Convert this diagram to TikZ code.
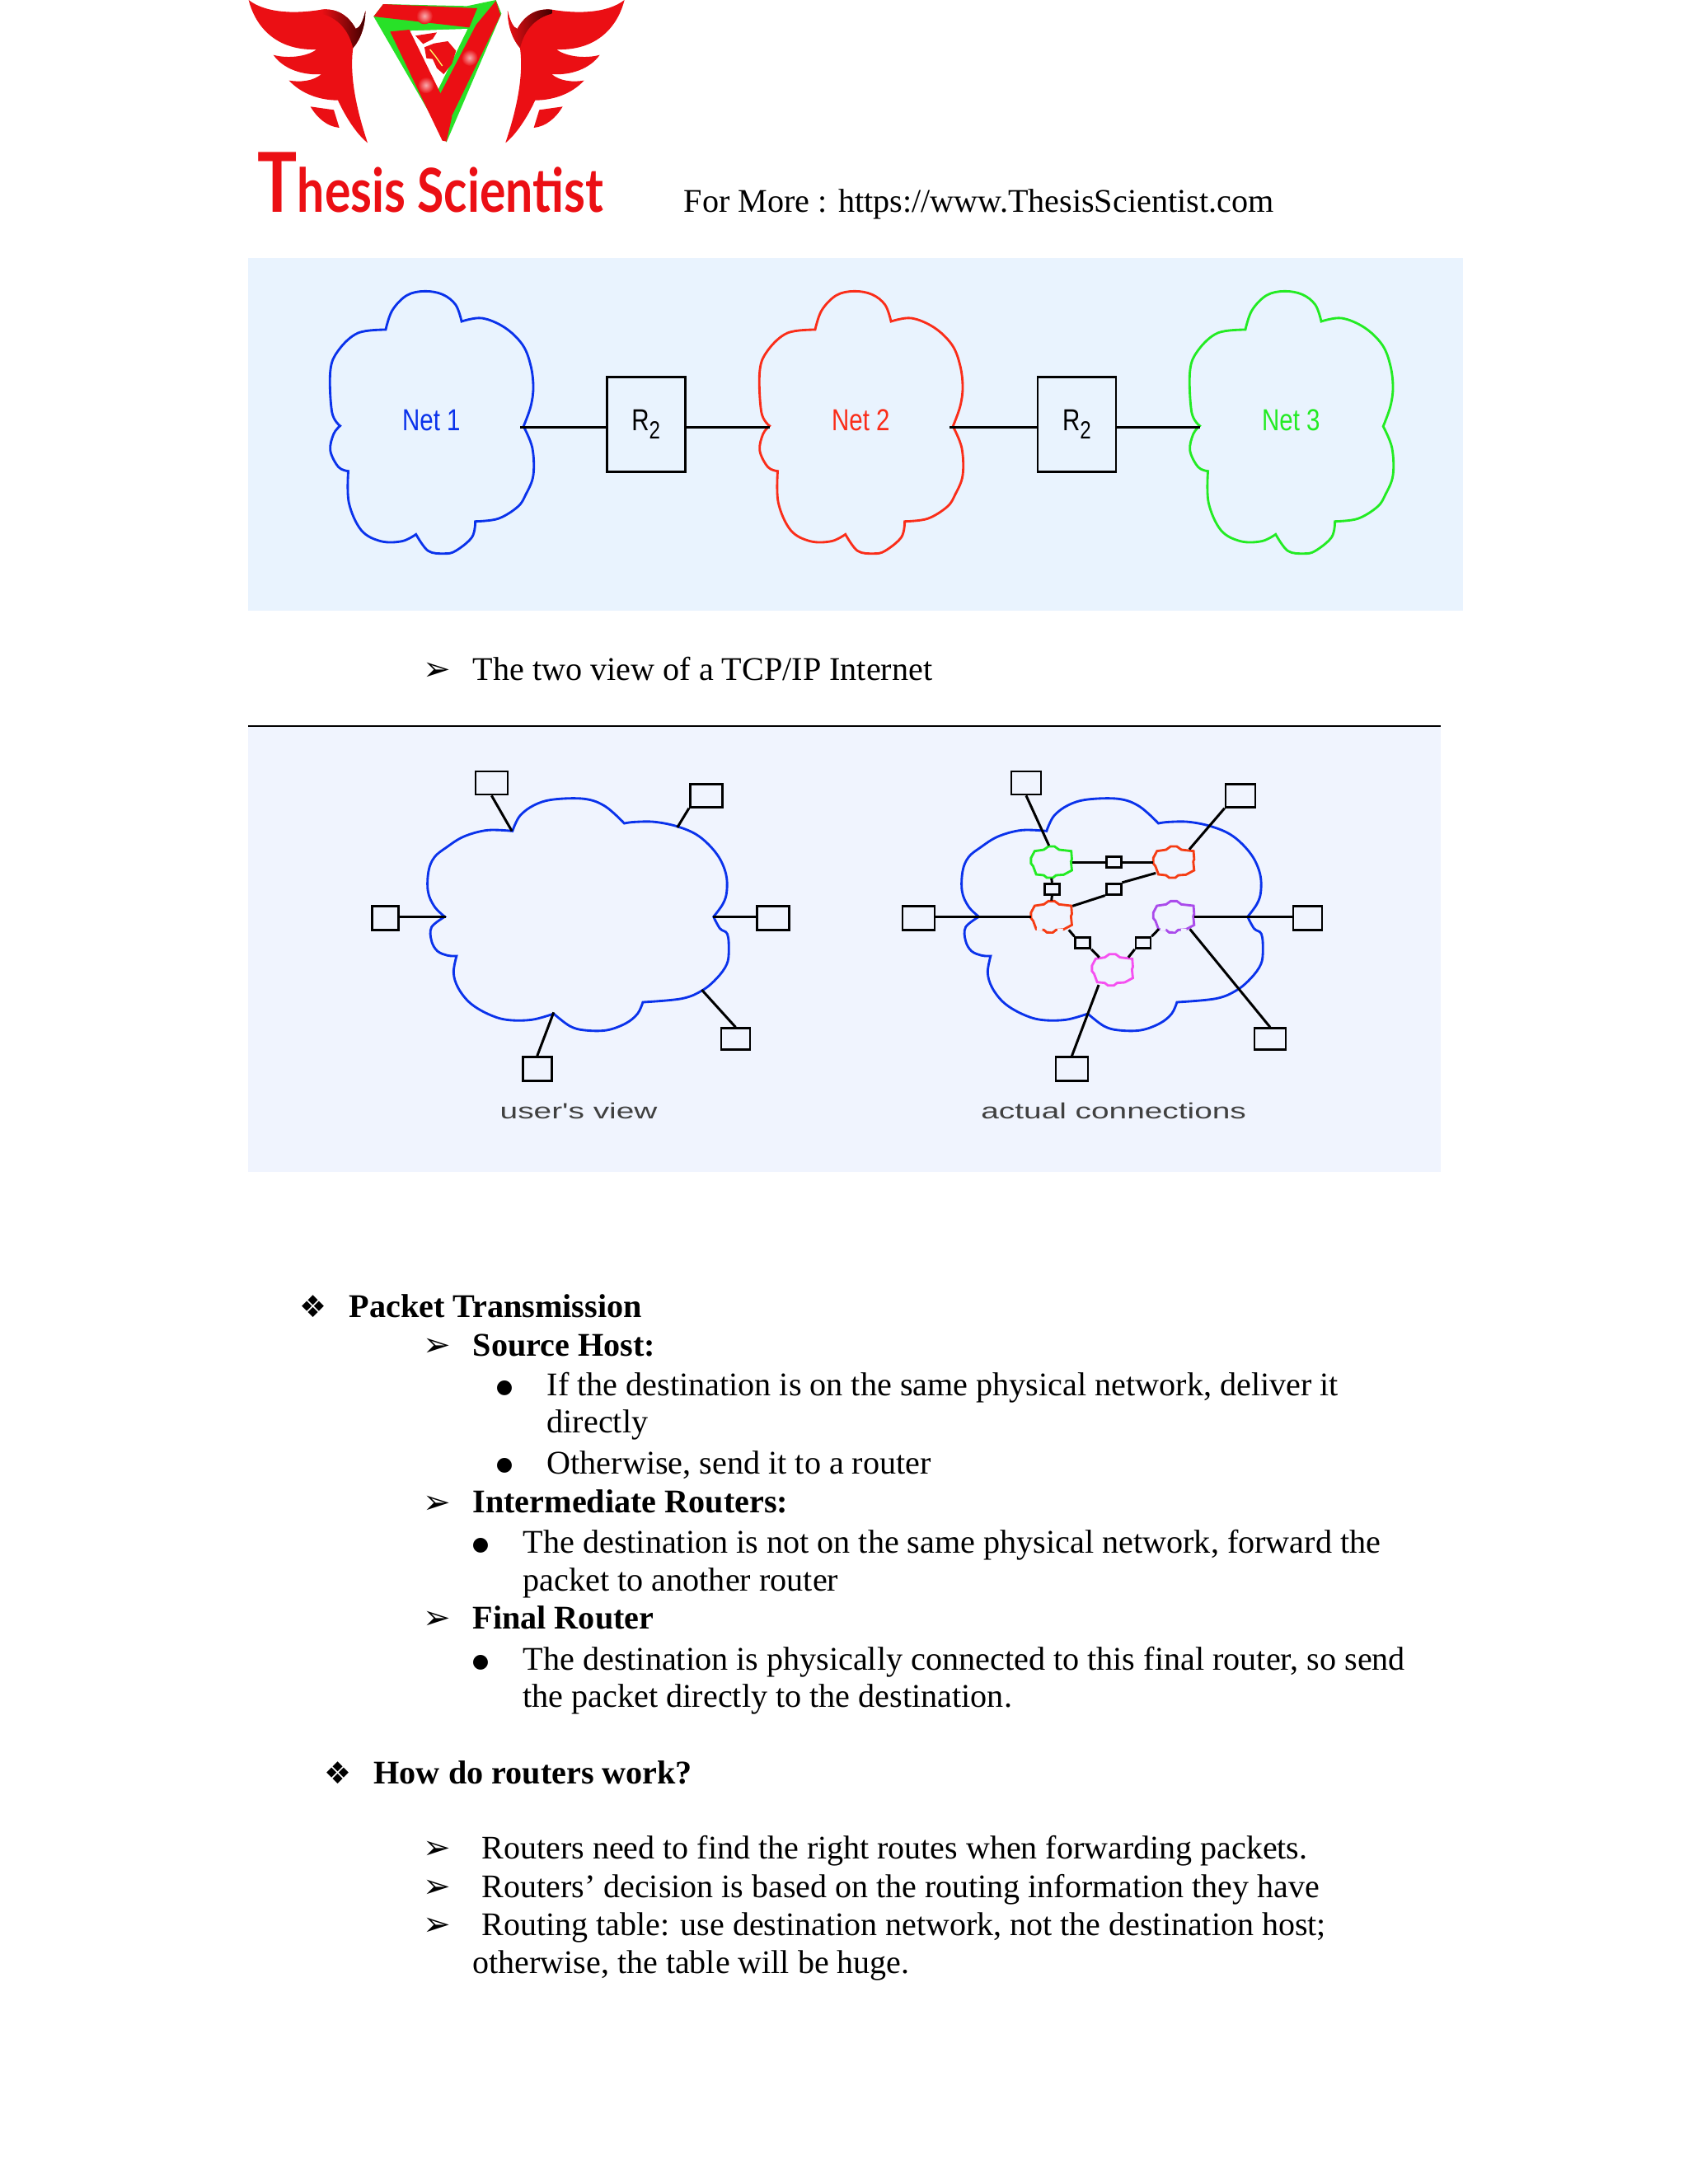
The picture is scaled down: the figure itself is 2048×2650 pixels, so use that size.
\documentclass[tikz,border=0pt]{standalone}
\usepackage{fontspec}
\setmainfont{Liberation Serif}
\newfontfamily\dingfont{DejaVu Sans}
\newfontfamily\brandfont[FakeStretch=0.8]{Lato}
\newfontfamily\netfont[FakeStretch=0.8]{Liberation Sans}
\newfontfamily\wideviewfont[FakeStretch=1.45]{Liberation Sans}
\usetikzlibrary{positioning}
\definecolor{logored}{RGB}{235,15,20}
\definecolor{logogreen}{RGB}{40,225,40}
\definecolor{panelone}{RGB}{233,243,254}
\definecolor{paneltwo}{RGB}{240,244,254}
\definecolor{netblue}{RGB}{10,50,235}
\definecolor{netred}{RGB}{250,45,25}
\definecolor{netgreen}{RGB}{35,235,35}
\definecolor{netorange}{RGB}{245,60,20}
\definecolor{netpurple}{RGB}{170,75,235}
\definecolor{netpink}{RGB}{245,80,240}
\def\px{0.2988pt}
\tikzset{
  bodyline/.style={anchor=base west, inner sep=0pt, font=\fontsize{12}{14}\selectfont},
  tightline/.style={bodyline, font=\fontsize{11.95}{14}\selectfont},
  headline/.style={bodyline, font=\fontsize{12}{14}\selectfont\bfseries},
  dotmark/.style={anchor=base, inner sep=0pt, yshift=1.2pt, font=\dingfont\fontsize{7}{9}\selectfont},
  arrowmark/.style={anchor=base west, inner sep=0pt, font=\dingfont\fontsize{12}{14}\selectfont},
  diamondmark/.style={anchor=base, inner sep=0pt, font=\dingfont\fontsize{11}{12}\selectfont},
  netline/.style={line width=0.85pt},
  wire/.style={line width=0.9pt, black},
  netlabel/.style={inner sep=0pt, font=\netfont\fontsize{11}{12}\selectfont},
  viewlabel/.style={inner sep=0pt, text=black!75, font=\wideviewfont\fontsize{8}{10}\selectfont},
  routerbox/.style={draw, line width=0.8pt, inner sep=0pt, minimum width=95*\px, minimum height=115*\px,
    font=\netfont\fontsize{11}{12}\selectfont},
  hostbox/.style 2 args={draw, line width=0.8pt, inner sep=0pt, minimum width=#1*\px, minimum height=#2*\px},
  linkbox/.style={hostbox={18}{13}},
  smallnode/.style={inner sep=0pt, minimum width=49*\px, minimum height=38*\px}
}
% Net cloud of the first panel
\newcommand{\netcloud}[1]{
  \draw[netline, #1] plot[smooth, tension=0.6] coordinates {(425,270) (445,200) (490,145) (545,130) (600,142) (640,180) (658,240)}
    -- plot[smooth, tension=0.6] coordinates {(658,240) (720,228) (790,262) (845,325) (870,400) (878,480) (870,550) (848,622)}
    -- plot[smooth, tension=0.6] coordinates {(848,622) (875,700) (878,800) (855,870) (830,915) (770,958) (700,968)}
    -- plot[smooth, tension=0.6] coordinates {(700,968) (690,1025) (640,1075) (605,1085) (555,1075) (518,1015)}
    -- plot[smooth, tension=0.6] coordinates {(518,1015) (475,1040) (410,1040) (350,1000) (312,900) (310,785)}
    -- plot[smooth, tension=0.6] coordinates {(310,785) (280,770) (255,710) (265,650) (285,620)}
    -- plot[smooth, tension=0.6] coordinates {(285,620) (260,570) (255,420) (280,345) (340,282) (425,270)} -- cycle;
}
% Big cloud of the second panel
\newcommand{\viewcloud}{
  \draw[netline, netblue] plot[smooth, tension=0.6] coordinates {(565,325) (590,270) (640,230) (705,210) (810,208) (880,235) (945,297)}
    -- plot[smooth, tension=0.6] coordinates {(945,297) (980,292) (1050,292) (1130,310) (1200,345) (1260,410) (1290,480) (1293,545) (1280,590) (1248,637)}
    -- plot[smooth, tension=0.6] coordinates {(1248,637) (1270,680) (1295,700) (1300,760) (1293,810) (1260,860) (1210,905) (1140,935) (1008,948)}
    -- plot[smooth, tension=0.6] coordinates {(1008,948) (990,990) (950,1025) (885,1050) (810,1050) (760,1035) (705,990)}
    -- plot[smooth, tension=0.6] coordinates {(705,990) (630,1012) (545,1012) (480,990) (420,950) (380,895) (365,840) (375,780)}
    -- plot[smooth, tension=0.6] coordinates {(375,780) (345,778) (310,762) (290,725) (290,675) (335,637)}
    -- plot[smooth, tension=0.6] coordinates {(335,637) (300,600) (278,545) (280,470) (300,420) (340,385) (400,345) (480,322) (565,325)} -- cycle;
}
% Small cloud: name, colour, centre
\newcommand{\smallcloud}[4]{
  \node[smallnode] (#1) at (#3,#4) {};
  \draw[netline, #2, shift={(#3,#4)}] (-25,-45) -- (-10,-57) -- (10,-57) -- (25,-45) -- (65,-40)
    -- (67,-10) -- (64,-2) -- (67,30) -- (40,46) -- (15,48) -- (5,57) -- (-15,57) -- (-25,48) -- (-50,45)
    -- (-60,15) -- (-67,5) -- (-67,-15) -- (-55,-40) -- cycle;
}
% One wing of the logo
\newcommand{\logowing}{
  \fill[logored] (65,0) .. controls (85,80) and (150,185) .. (312,180) .. controls (280,205) and (210,215) .. (155,200)
    .. controls (190,250) and (260,275) .. (330,270) .. controls (300,295) and (255,300) .. (212,293)
    .. controls (260,345) and (330,365) .. (390,365) .. controls (420,430) and (460,490) .. (498,520)
    .. controls (465,420) and (430,290) .. (445,175) .. controls (475,140) and (490,90) .. (490,40)
    .. controls (480,80) and (470,100) .. (455,105) .. controls (425,50) and (380,30) .. (330,35)
    .. controls (240,50) and (130,50) .. (65,0) -- cycle;
  \shade[left color=logored, right color=black!75!red] (330,35) .. controls (380,30) and (425,50) .. (455,105)
    .. controls (470,100) and (480,80) .. (490,40) .. controls (490,90) and (475,140) .. (445,175)
    .. controls (430,110) and (390,65) .. (330,50) -- cycle;
  \fill[logored] (290,388) -- (375,400) -- (395,465) .. controls (350,460) and (315,430) .. (290,388) -- cycle;
}
\begin{document}
\begin{tikzpicture}[x=0.2988pt, y=-0.2988pt]
  \useasboundingbox (0,0) rectangle (2048,2650);
  \fill[white] (0,0) rectangle (2048,2650);
  % Logo
  \begin{scope}[shift={(280,0)}, scale=1/3]
    \logowing
    % Triangle
    \fill[logogreen] (520,60) -- (555,15) -- (860,22) -- (965,0) -- (985,50) -- (785,518) -- cycle;
    \fill[white] (650,112) -- (862,105) -- (745,345) -- cycle;
    \fill[logored] (555,15) -- (897,30) -- (868,100) -- (520,60) -- cycle;
    \fill[logored] (580,115) -- (650,108) -- (805,425) -- (785,515) -- (770,512) -- cycle;
    \fill[logored] (965,3) -- (982,55) -- (803,425) -- (758,350) -- (893,90) -- cycle;
    \shade[inner color=white!65!logored, outer color=logored] (705,58) circle (30);
    \shade[inner color=white!65!logored, outer color=logored] (710,310) circle (30);
    \shade[inner color=white!65!logored, outer color=logored] (869,210) circle (30);
    % Heart
    \fill[logored] (672,130) -- (750,118) -- (735,142) -- (700,160) -- cycle;
    \fill[logored] (705,172) -- (740,158) -- (790,150) -- (820,185) -- (805,232) -- (775,270)
      -- (750,248) -- (735,215) -- (712,212) -- cycle;
    \draw[yellow!60!white, line width=0.4pt] (725,180) -- (745,205) -- (770,240);
  \end{scope}
  \begin{scope}[shift={(779.3,0)}, xscale=-1/3, yscale=1/3]
    \logowing
  \end{scope}
  \node[anchor=base west, inner sep=0pt, text=logored, font=\brandfont\bfseries\fontsize{22}{28}\selectfont] (brand) at (312,257)
    {{\fontsize{30}{32}\selectfont T}hesis Scientist};
  \node[bodyline] (moreline) at (829,257) {For More : https://www.ThesisScientist.com};
  % First panel
  \fill[panelone] (301,313) rectangle (1775,741);
  \begin{scope}[shift={(300,310)}, xscale=1/2.53, yscale=1/3]
    \netcloud{netblue}
    \node[netlabel, text=netblue] (net1) at (565,600) {Net 1};
    \coordinate (net1out) at (838,625);
    \node[routerbox] (rleft) at (1224,614) {R\raisebox{-3pt}{\fontsize{9}{10}\selectfont 2}};
  \end{scope}
  \begin{scope}[shift={(821,310)}, xscale=1/2.53, yscale=1/3]
    \netcloud{netred}
    \node[netlabel, text=netred] (net2) at (565,600) {Net 2};
    \coordinate (net2in) at (285,625);
    \coordinate (net2out) at (838,625);
    \node[routerbox] (rright) at (1228,614) {R\raisebox{-3pt}{\fontsize{9}{10}\selectfont 2}};
  \end{scope}
  \begin{scope}[shift={(1343,310)}, xscale=1/2.53, yscale=1/3]
    \netcloud{netgreen}
    \node[netlabel, text=netgreen] (net3) at (565,600) {Net 3};
    \coordinate (net3in) at (285,625);
  \end{scope}
  \draw[wire] (net1out) -- (rleft.west |- net1out);
  \draw[wire] (rleft.east |- net2in) -- (net2in);
  \draw[wire] (net2out) -- (rright.west |- net2out);
  \draw[wire] (rright.east |- net3in) -- (net3in);
  % Caption line
  \node[arrowmark] (viewmark) at (513,825) {➢};
  \node[bodyline] (viewline) at (573,825) {The two view of a TCP/IP Internet};
  % Second panel
  \fill[paneltwo] (301,881) rectangle (1748,1422);
  \draw[line width=0.7pt] (301,881) -- (1748,881);
  % User's view
  \begin{scope}[shift={(420,900)}, xscale=1/2.8, yscale=1/3]
    \viewcloud
    \node[hostbox={39}{28}] (utl) at (494,150) {};
    \node[hostbox={39}{28}] (utr) at (1223,196) {};
    \node[hostbox={32}{29}] (ul) at (133,641) {};
    \node[hostbox={39}{29}] (ur) at (1450,641) {};
    \node[hostbox={35}{26}] (ubr) at (1323,1082) {};
    \node[hostbox={35}{29}] (ub) at (649,1191) {};
    \coordinate (ctl) at (563,325);
    \coordinate (ctr) at (1125,312);
    \coordinate (cl) at (340,637);
    \coordinate (cr) at (1245,637);
    \coordinate (cbr) at (1208,903);
    \coordinate (cb) at (705,985);
    \node[viewlabel] (userview) at (790,1345) {user's view};
  \end{scope}
  \draw[wire] (utl.south) -- (ctl);
  \draw[wire] (utr.south west) -- (ctr);
  \draw[wire] (ul.east |- cl) -- (cl);
  \draw[wire] (ur.west |- cr) -- (cr);
  \draw[wire] (ubr.north) -- (cbr);
  \draw[wire] (ub.north) -- (cb);
  % Actual connections
  \begin{scope}[shift={(1068,900)}, xscale=1/2.8, yscale=1/3]
    \viewcloud
  \end{scope}
  \begin{scope}[shift={(1060,900)}, xscale=1/2.703, yscale=1/3]
    \node[hostbox={36}{28}] (atl) at (500,150) {};
    \node[hostbox={36}{28}] (atr) at (1203,196) {};
    \node[hostbox={39}{29}] (al) at (147,641) {};
    \node[hostbox={35}{29}] (ar) at (1423,641) {};
    \node[hostbox={38}{26}] (abr) at (1300,1082) {};
    \node[hostbox={39}{29}] (ab) at (650,1191) {};
    \smallcloud{gwgreen}{netgreen}{583}{438}
    \smallcloud{gwred}{netorange}{984}{438}
    \smallcloud{gworange}{netorange}{583}{637}
    \smallcloud{gwpurple}{netpurple}{984}{637}
    \smallcloud{gwpink}{netpink}{783}{830}
    % Broken lower edges
    \draw[paneltwo, line width=1.2pt, dash pattern=on 2pt off 2.5pt on 1pt off 2pt] (535,682) -- (640,688);
    \draw[paneltwo, line width=1.2pt, dash pattern=on 2pt off 2.5pt on 1pt off 2pt] (940,682) -- (1035,688);
    \node[linkbox] (la) at (787,438) {};
    \node[linkbox] (lb) at (585,536) {};
    \node[linkbox] (lc) at (787,536) {};
    \node[linkbox] (ld) at (686,732) {};
    \node[linkbox] (le) at (884,732) {};
    \coordinate (gntop) at (575,378);
    \coordinate (rdne) at (1035,392);
    \coordinate (rdsw) at (925,478);
    \coordinate (ornw) at (652,598);
    \coordinate (orse) at (640,685);
    \coordinate (pknw) at (740,785);
    \coordinate (pkne) at (835,785);
    \coordinate (pksw) at (738,885);
    \coordinate (prsw) at (935,682);
    \coordinate (prse) at (1037,682);
    \node[viewlabel] (actualview) at (787,1345) {actual connections};
  \end{scope}
  \draw[wire] (atl.south) -- (gntop);
  \draw[wire] (rdne) -- (atr.south west);
  \draw[wire] (al.east |- gworange.west) -- (gworange.west);
  \draw[wire] (gwpurple.east) -- (ar.west |- gwpurple.east);
  \draw[wire] (prse) -- (abr.north);
  \draw[wire] (pksw) -- (ab.north);
  \draw[wire] (gwgreen.east) -- (la.west);
  \draw[wire] (la.east) -- (gwred.west);
  \draw[wire] (gwgreen.south) -- (lb.north);
  \draw[wire] (lb.south) -- (gworange.north);
  \draw[wire] (rdsw) -- (lc.north east);
  \draw[wire] (lc.south west) -- (ornw);
  \draw[wire] (orse) -- (ld.north west);
  \draw[wire] (ld.south east) -- (pknw);
  \draw[wire] (pkne) -- (le.south west);
  \draw[wire] (le.north east) -- (prsw);
  % Packet transmission
  \node[diamondmark] (packetmark) at (380,1598) {❖};
  \node[headline] (packetline) at (423,1598) {Packet Transmission};
  \node[arrowmark] (sourcemark) at (513,1645) {➢};
  \node[headline] (sourceline) at (573,1645) {Source Host:};
  \node[dotmark] (samemark) at (612,1694) {●};
  \node[bodyline] (sameline) at (663,1693) {If the destination is on the same physical network, deliver it};
  \node[bodyline] (sameline2) at (663,1738) {directly};
  \node[dotmark] (otherwisemark) at (612,1788) {●};
  \node[bodyline] (otherwiseline) at (663,1788) {Otherwise, send it to a router};
  \node[arrowmark] (intermark) at (513,1836) {➢};
  \node[headline] (interline) at (573,1835) {Intermediate Routers:};
  \node[dotmark] (notsamemark) at (583,1885) {●};
  \node[bodyline] (notsameline) at (634,1884) {The destination is not on the same physical network, forward the};
  \node[bodyline] (notsameline2) at (634,1930) {packet to another router};
  \node[arrowmark] (finalmark) at (513,1976) {➢};
  \node[headline] (finalline) at (573,1976) {Final Router};
  \node[dotmark] (directmark) at (583,2027) {●};
  \node[bodyline] (directline) at (634,2026) {The destination is physically connected to this final router, so send};
  \node[bodyline] (directline2) at (634,2071) {the packet directly to the destination.};
  % How do routers work
  \node[diamondmark] (howmark) at (410,2164) {❖};
  \node[headline] (howline) at (453,2164) {How do routers work?};
  \node[arrowmark] (findmark) at (513,2255) {➢};
  \node[tightline] (findline) at (584,2255) {Routers need to find the right routes when forwarding packets.};
  \node[arrowmark] (decisionmark) at (513,2302) {➢};
  \node[tightline] (decisionline) at (584,2302) {Routers’ decision is based on the routing information they have};
  \node[arrowmark] (tablemark) at (513,2348) {➢};
  \node[tightline] (tableline) at (584,2348) {Routing table: use destination network, not the destination host;};
  \node[tightline] (tableline2) at (573,2394) {otherwise, the table will be huge.};
\end{tikzpicture}
\end{document}
